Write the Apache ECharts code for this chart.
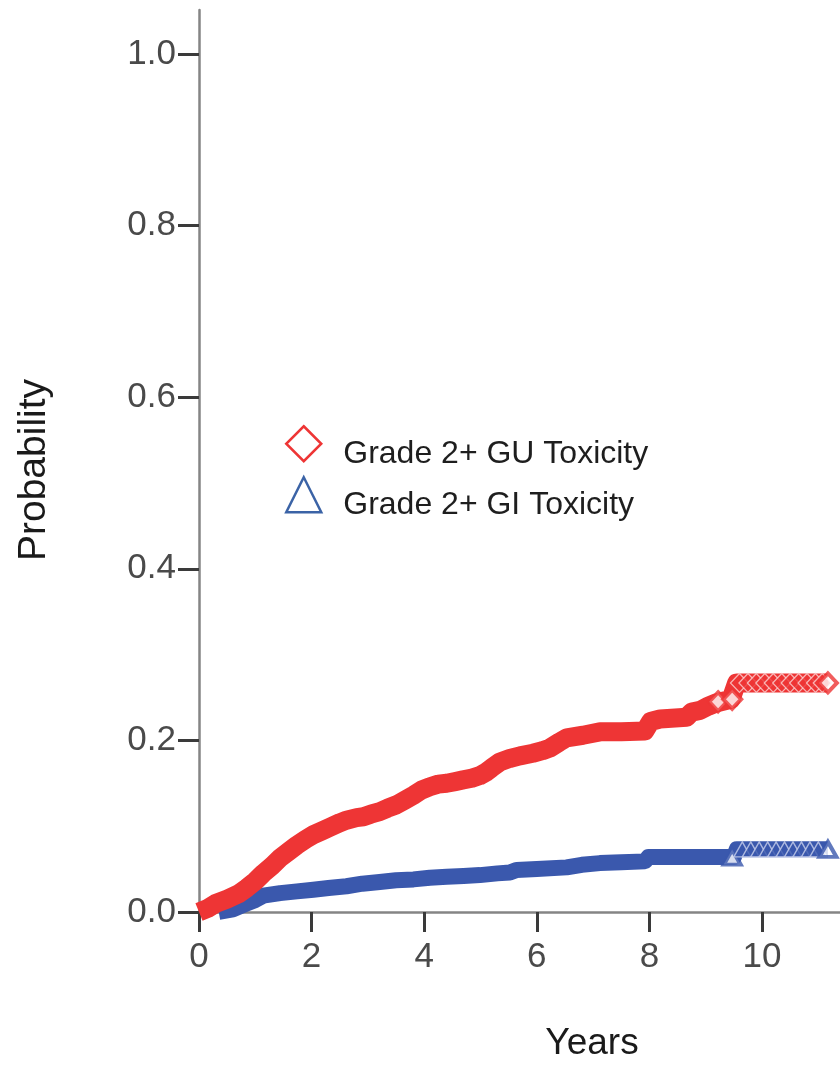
<!DOCTYPE html>
<html><head><meta charset="utf-8">
<script src="https://cdn.jsdelivr.net/npm/echarts@6/dist/echarts.min.js"></script>
<style>html,body{margin:0;padding:0;background:#fff}#c{width:840px;height:1068px}</style>
</head><body><div id="c"></div>
<script>
// ---- data ----
const seriesNames = ['Grade 2+ GU Toxicity', 'Grade 2+ GI Toxicity'];
const xTicks = [0, 2, 4, 6, 8, 10];
const yTicks = [0, 0.2, 0.4, 0.6, 0.8, 1.0];
const xTitle = 'Years';
const yTitle = 'Probability';

// GU (red) cumulative incidence curve [years, probability]
const guCurve = [
  [0,0],[0.15,0.004],[0.3,0.010],[0.5,0.015],[0.7,0.021],[0.85,0.028],[1.0,0.036],[1.14,0.045],
  [1.3,0.054],[1.44,0.063],[1.6,0.071],[1.74,0.078],[1.9,0.085],[2.03,0.090],[2.2,0.095],[2.33,0.099],
  [2.5,0.104],[2.62,0.107],[2.8,0.110],[2.92,0.111],[3.05,0.114],[3.21,0.117],[3.35,0.121],[3.51,0.125],
  [3.65,0.130],[3.81,0.136],[3.95,0.142],[4.1,0.146],[4.25,0.149],[4.4,0.150],[4.55,0.152],[4.69,0.154],
  [4.85,0.156],[4.99,0.159],[5.1,0.163],[5.2,0.168],[5.35,0.175],[5.52,0.179],[5.7,0.182],[5.93,0.185],
  [6.1,0.188],[6.23,0.191],[6.4,0.198],[6.53,0.203],[6.82,0.206],[7.12,0.210],[7.5,0.210],[7.92,0.211],
  [8.02,0.222],[8.19,0.225],[8.66,0.227],[8.75,0.233],[8.9,0.235],[9.05,0.240],[9.2,0.244],[9.45,0.248],
  [9.55,0.267],[11.17,0.267]
];
// GU censoring marks that stand out individually
const guCensor = [
  [9.22,0.245],[9.47,0.248],
  [9.6,0.267],[9.75,0.267],[9.9,0.267],[10.05,0.267],[10.2,0.267],[10.35,0.267],[10.5,0.267],
  [10.65,0.267],[10.8,0.267],[10.95,0.267],[11.07,0.267],[11.17,0.267]
];

// GI (blue) cumulative incidence curve
const giCurve = [
  [0.35,0],[0.6,0.003],[0.85,0.010],[1.0,0.014],[1.14,0.019],[1.44,0.022],[1.74,0.024],[2.03,0.026],
  [2.3,0.028],[2.62,0.030],[2.9,0.033],[3.21,0.035],[3.5,0.037],[3.81,0.038],[4.1,0.040],[4.4,0.041],
  [4.7,0.042],[4.99,0.043],[5.3,0.045],[5.52,0.046],[5.64,0.049],[6.0,0.050],[6.53,0.052],[6.8,0.055],
  [7.12,0.057],[7.5,0.058],[7.92,0.059],[7.98,0.064],[8.9,0.064],[9.5,0.064],[9.55,0.073],[11.17,0.073]
];
const giCensor = [
  [9.47,0.064],
  [9.65,0.073],[9.8,0.073],[9.95,0.073],[10.1,0.073],[10.25,0.073],[10.4,0.073],[10.55,0.073],
  [10.7,0.073],[10.85,0.073],[11.0,0.073],[11.17,0.073]
];

// ---- styles ----
const RED = '#ee3535';
const BLUE = '#3a58ad';
const FONT = '"Liberation Sans", Arial, sans-serif';

// last mark of each flat run and lone marks show their white interior
function markStyle(list, color, soloIdx, chevron) {
  return list.map((p, i) => {
    const solo = soloIdx.indexOf(i) >= 0 || i === list.length - 1;
    return {value: p, itemStyle: solo
      ? {color: '#fff', borderColor: color, borderWidth: 4}
      : {color: color, borderColor: chevron, borderWidth: 1.3}};
  });
}

const chart = echarts.init(document.getElementById('c'), null, {renderer: 'canvas'});
chart.setOption({
  animation: false,
  backgroundColor: '#fff',
  grid: {left: 199, right: 0, top: 10, bottom: 156, containLabel: false, outerBoundsMode: 'none'},
  xAxis: {
    type: 'value', min: 0, max: 11.385,
    axisLine: {show: true, onZero: false, lineStyle: {color: '#858585', width: 2.5}},
    axisTick: {show: true, customValues: xTicks, length: 20, lineStyle: {color: '#3a3a3a', width: 3}},
    axisLabel: {show: true, customValues: xTicks, fontSize: 35, fontFamily: FONT, color: '#4a4a4a', margin: 28,
      formatter: v => String(Math.round(v))},
    splitLine: {show: false}
  },
  yAxis: {
    type: 'value', min: 0, max: 1.0513,
    axisLine: {show: true, onZero: false, lineStyle: {color: '#858585', width: 2.5}},
    axisTick: {show: true, customValues: yTicks, length: 21, lineStyle: {color: '#3a3a3a', width: 3}},
    axisLabel: {show: true, customValues: yTicks, fontSize: 35, fontFamily: FONT, color: '#4a4a4a', margin: 23,
      formatter: v => v.toFixed(1)},
    splitLine: {show: false}
  },
  legend: [
    {
      orient: 'horizontal', left: 285, top: 425, padding: 0, itemWidth: 35, itemHeight: 35, selectedMode: false,
      data: [{name: seriesNames[0], icon: 'diamond', itemStyle: {color: '#fff', borderColor: RED, borderWidth: 2.5}}],
      formatter: n => '{t|' + n + '}',
      textStyle: {fontSize: 32, fontFamily: FONT, color: '#1e1e1e',
        rich: {t: {fontSize: 32, fontFamily: FONT, color: '#1e1e1e', padding: [20, 0, 0, 17]}}}
    },
    {
      orient: 'horizontal', left: 285, top: 476, padding: 0, itemWidth: 35, itemHeight: 35, selectedMode: false,
      data: [{name: seriesNames[1], icon: 'triangle', itemStyle: {color: '#fff', borderColor: '#3b63a6', borderWidth: 2.5}}],
      formatter: n => '{t|' + n + '}',
      textStyle: {fontSize: 32, fontFamily: FONT, color: '#1e1e1e',
        rich: {t: {fontSize: 32, fontFamily: FONT, color: '#1e1e1e', padding: [20, 0, 0, 17]}}}
    }
  ],
  graphic: [
    {type: 'text', x: 592, y: 1044, silent: true,
      style: {text: xTitle, font: '37px ' + FONT, fill: '#1a1a1a', align: 'center', verticalAlign: 'middle'}},
    {type: 'text', x: 34, y: 470, rotation: Math.PI / 2, silent: true,
      style: {text: yTitle, font: '39px ' + FONT, fill: '#1a1a1a', align: 'center', verticalAlign: 'middle'}}
  ],
  series: [
    {name: seriesNames[1], type: 'line', data: giCurve, symbol: 'none', clip: true, z: 2,
      lineStyle: {color: BLUE, width: 16, cap: 'butt', join: 'round'}, itemStyle: {color: BLUE}},
    {name: seriesNames[1], type: 'scatter', data: markStyle(giCensor, BLUE, [0], '#c9d1ec'), symbol: 'triangle',
      symbolSize: [17, 15], clip: true, z: 3},
    {name: seriesNames[0], type: 'line', data: guCurve, symbol: 'none', clip: true, z: 4,
      lineStyle: {color: RED, width: 19, cap: 'butt', join: 'round'}, itemStyle: {color: RED}},
    {name: seriesNames[0], type: 'scatter', data: markStyle(guCensor, RED, [0, 1], '#fbd3d3'), symbol: 'diamond',
      symbolSize: [18, 19], clip: true, z: 5}
  ]
});
</script>
</body></html>
